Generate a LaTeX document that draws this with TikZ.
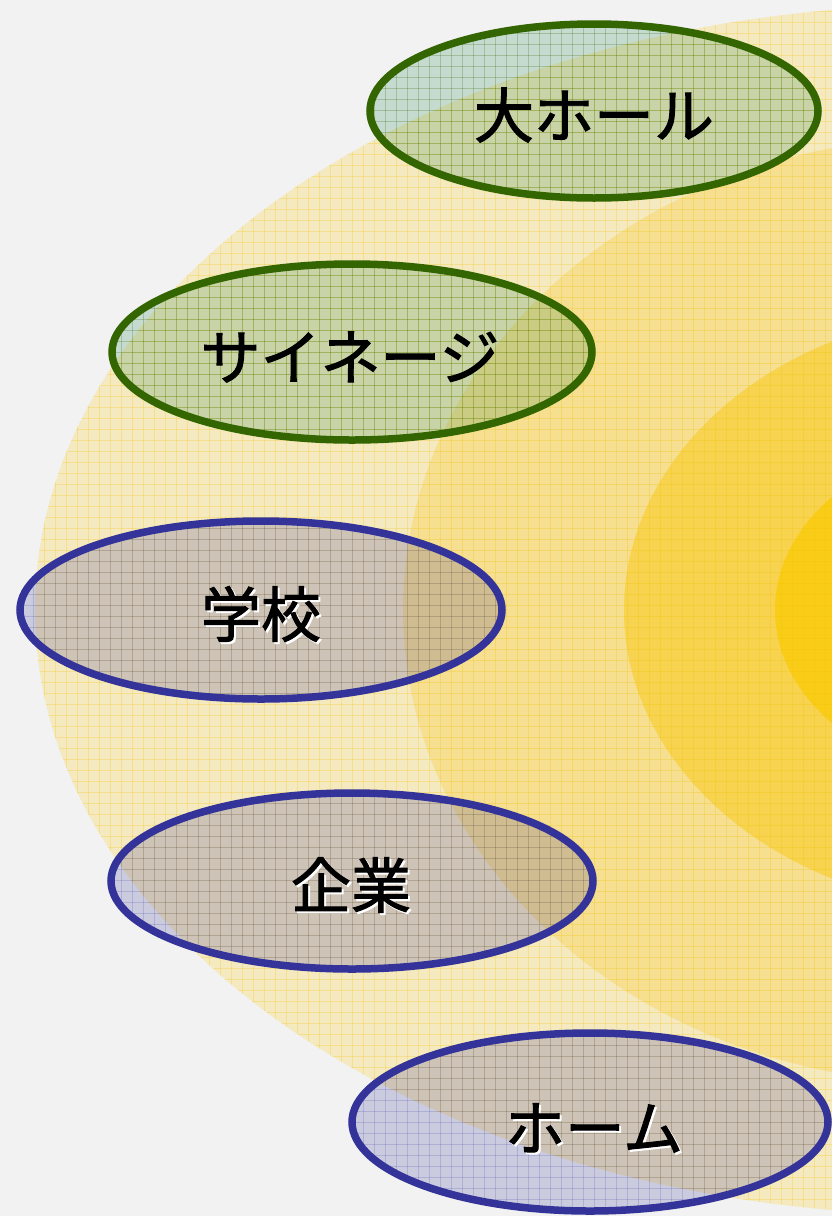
\documentclass[tikz,border=0pt]{standalone}
\usepackage{fontspec}
\newfontfamily\jpfont[FakeBold=1.6]{Noto Sans CJK JP}
\definecolor{bgc}{HTML}{F2F2F2}
\definecolor{yl1}{HTML}{F4E9BF}
\definecolor{yl2}{HTML}{F6DF90}
\definecolor{yl3}{HTML}{F7D350}
\definecolor{yl4}{HTML}{F9CC18}
\definecolor{gold}{HTML}{F2C200}
\definecolor{grn}{HTML}{336600}
\definecolor{grnfill}{HTML}{2E8B57}
\definecolor{blu}{HTML}{333399}
\newcommand\mygrid[1]{%
  \foreach \gx in {0,11,...,836}{\draw[#1] (\gx,0)--(\gx,1216);}%
  \foreach \gy in {0,11,...,1220}{\draw[#1] (0,\gy)--(832,\gy);}}
\tikzset{
  ygrid/.style={draw=gold, line width=0.8pt, opacity=0.25},
  ggrid/.style={draw=grn, line width=0.7pt, opacity=0.25},
  bgrid/.style={draw=blu, line width=0.7pt, opacity=0.18},
  gfill/.style={fill=grnfill, fill opacity=0.22},
  bfill/.style={fill=blu, fill opacity=0.2},
  gline/.style={draw=grn, line width=7.5pt},
  bline/.style={draw=blu, line width=7.5pt},
  lbl/.style={font=\jpfont\fontsize{60}{72}\selectfont, text=black, inner sep=0pt},
  shd/.style={lbl, text=white}
}
\begin{document}
\begin{tikzpicture}[x=1pt,y=-1pt]
\useasboundingbox (0,0) rectangle (832,1216);
\clip (0,0) rectangle (832,1216);
\fill[bgc] (0,0) rectangle (832,1216);
% concentric yellow layers
\fill[yl1] (950,610) ellipse [x radius=915pt, y radius=605pt];
\begin{scope}\clip (950,610) ellipse [x radius=915pt, y radius=605pt];\mygrid{ygrid}\end{scope}
\fill[yl2] (950,610) ellipse [x radius=547pt, y radius=473pt];
\begin{scope}\clip (950,610) ellipse [x radius=547pt, y radius=473pt];\mygrid{ygrid}\end{scope}
\fill[yl3] (1000,610) ellipse [x radius=376pt, y radius=300pt];
\begin{scope}\clip (1000,610) ellipse [x radius=376pt, y radius=300pt];\mygrid{ygrid}\end{scope}
\fill[yl4] (1000,610) ellipse [x radius=225pt, y radius=170pt];
\begin{scope}\clip (1000,610) ellipse [x radius=225pt, y radius=170pt];\mygrid{ygrid}\end{scope}
% label ellipses
% 1 大ホール
\fill[gfill] (594,111) ellipse [x radius=224pt, y radius=87pt];
\begin{scope}\clip (594,111) ellipse [x radius=224pt, y radius=87pt];\mygrid{ggrid}\end{scope}
\draw[gline] (594,111) ellipse [x radius=224pt, y radius=87pt];
\node[lbl] (t1) at (594,115) {大ホール};
% 2 サイネージ
\fill[gfill] (352,352) ellipse [x radius=240pt, y radius=88pt];
\begin{scope}\clip (352,352) ellipse [x radius=240pt, y radius=88pt];\mygrid{ggrid}\end{scope}
\draw[gline] (352,352) ellipse [x radius=240pt, y radius=88pt];
\node[lbl] (t2) at (350,357) {サイネージ};
% 3 学校
\fill[bfill] (261,610) ellipse [x radius=241pt, y radius=89pt];
\begin{scope}\clip (261,610) ellipse [x radius=241pt, y radius=89pt];\mygrid{bgrid}\end{scope}
\draw[bline] (261,610) ellipse [x radius=241pt, y radius=89pt];
\node[shd] (t3s) at (263,616) {学校};
\node[lbl] (t3) at (261,614) {学校};
% 4 企業
\fill[bfill] (352,881) ellipse [x radius=241pt, y radius=88pt];
\begin{scope}\clip (352,881) ellipse [x radius=241pt, y radius=88pt];\mygrid{bgrid}\end{scope}
\draw[bline] (352,881) ellipse [x radius=241pt, y radius=88pt];
\node[shd] (t4s) at (353,887) {企業};
\node[lbl] (t4) at (351,885) {企業};
% 5 ホーム
\fill[bfill] (590,1122) ellipse [x radius=238pt, y radius=89pt];
\begin{scope}\clip (590,1122) ellipse [x radius=238pt, y radius=89pt];\mygrid{bgrid}\end{scope}
\draw[bline] (590,1122) ellipse [x radius=238pt, y radius=89pt];
\node[shd] (t5s) at (596,1130) {ホーム};
\node[lbl] (t5) at (594,1128) {ホーム};
\end{tikzpicture}
\end{document}
